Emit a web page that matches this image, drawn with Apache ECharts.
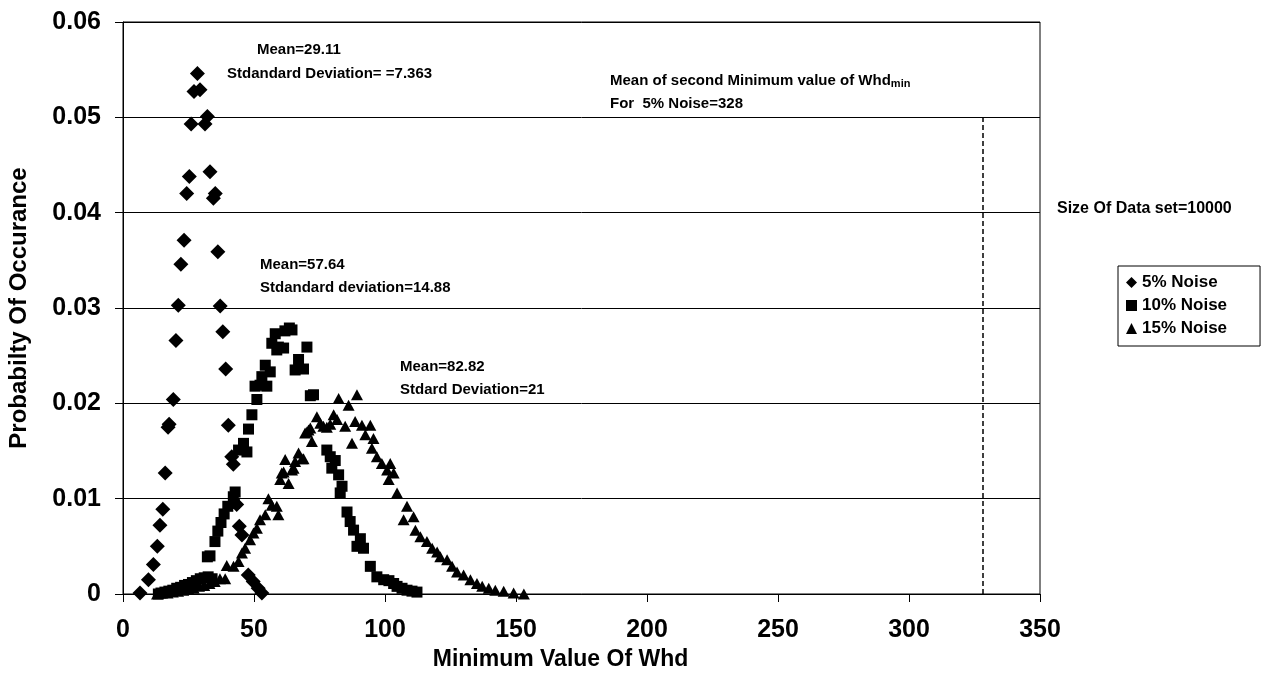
<!DOCTYPE html>
<html>
<head>
<meta charset="utf-8">
<script src="https://cdn.jsdelivr.net/npm/echarts@6/dist/echarts.min.js"></script>
<style>
    html, body {margin: 0; padding: 0; background: #fff;}
    #chart {width: 1265px; height: 681px;}
</style>
</head>
<body>
<div id="chart"></div>
<script>
// ---
// values: [minimum value of Whd, probability]
// ---
var noise5 = [
    [6.5, 0.0001], [9.7, 0.0015], [11.6, 0.0031], [13.1, 0.0050], [14.1, 0.0072],
    [15.2, 0.0089], [16.1, 0.0127], [17.2, 0.0175], [17.6, 0.0178], [19.2, 0.0204],
    [20.2, 0.0266], [21.1, 0.0303], [22.1, 0.0346], [23.3, 0.0371], [24.3, 0.0420],
    [25.3, 0.0438], [26.0, 0.0493], [27.1, 0.0527], [28.4, 0.0546], [29.4, 0.0529],
    [31.3, 0.0493], [32.2, 0.0501], [33.2, 0.0443], [34.5, 0.0415], [35.2, 0.0420],
    [36.2, 0.0359], [37.1, 0.0302], [38.1, 0.0275], [39.2, 0.0236], [40.2, 0.0177],
    [41.5, 0.0144], [42.1, 0.0136], [43.4, 0.0094], [44.4, 0.0071], [45.4, 0.0062],
    [47.8, 0.0020], [49.7, 0.0013], [51.6, 0.0006], [53.0, 0.0001]
];
var noise10 = [
    [13.5, 0.0000], [14.5, 0.0001], [16.0, 0.0002], [17.5, 0.0003], [19.0, 0.0004],
    [20.5, 0.0006], [22.0, 0.0007], [23.5, 0.0009], [25.0, 0.0010], [26.5, 0.0012],
    [28.0, 0.0014], [29.5, 0.0016], [31.0, 0.0017], [32.5, 0.0018], [34.0, 0.0016],
    [32.2, 0.0039], [33.2, 0.0040], [35.1, 0.0055], [36.2, 0.0066], [37.4, 0.0075],
    [38.6, 0.0084], [40.0, 0.0092], [42.5, 0.0095], [42.1, 0.0102], [42.8, 0.0107],
    [44.1, 0.0151], [46.0, 0.0158], [47.3, 0.0149], [47.9, 0.0173], [49.2, 0.0188],
    [51.1, 0.0204], [50.4, 0.0218], [52.3, 0.0219], [54.9, 0.0218], [53.0, 0.0228],
    [56.2, 0.0233], [54.3, 0.0240], [56.8, 0.0263], [58.1, 0.0273], [58.7, 0.0256],
    [59.3, 0.0259], [61.3, 0.0258], [61.8, 0.0276], [63.5, 0.0279], [64.5, 0.0277],
    [65.7, 0.0235], [67.0, 0.0246], [68.9, 0.0236], [70.2, 0.0259], [71.5, 0.0208],
    [72.7, 0.0209], [77.8, 0.0151], [79.1, 0.0144], [81.0, 0.0140], [79.7, 0.0132],
    [82.3, 0.0125], [83.6, 0.0113], [82.9, 0.0106], [85.5, 0.0086], [86.7, 0.0076],
    [88.0, 0.0067], [89.3, 0.0050], [90.6, 0.0058], [91.8, 0.0048], [94.4, 0.0029],
    [96.9, 0.0018], [99.5, 0.0015], [101.5, 0.0014], [103.3, 0.0011], [104.6, 0.0008],
    [106.5, 0.0006], [108.4, 0.0004], [110.3, 0.0003], [112.2, 0.0002]
];
var noise15 = [
    [13.0, 0.0000], [15.0, 0.0001], [17.0, 0.0001], [19.0, 0.0002], [21.0, 0.0003],
    [23.0, 0.0004], [25.0, 0.0005], [27.0, 0.0006], [29.0, 0.0008], [31.0, 0.0009],
    [33.0, 0.0011], [35.0, 0.0013], [37.0, 0.0016], [39.0, 0.0016], [39.6, 0.0030],
    [42.2, 0.0029], [44.1, 0.0034], [45.4, 0.0043], [46.6, 0.0048], [48.5, 0.0057],
    [49.8, 0.0064], [51.1, 0.0069], [52.3, 0.0078], [54.3, 0.0083], [55.5, 0.0100],
    [56.8, 0.0093], [58.7, 0.0092], [59.3, 0.0083], [60.0, 0.0120], [60.6, 0.0127],
    [61.3, 0.0128], [61.9, 0.0141], [63.2, 0.0116], [64.5, 0.0130], [65.1, 0.0132],
    [65.7, 0.0139], [67.0, 0.0148], [68.3, 0.0142], [68.9, 0.0142], [69.5, 0.0169],
    [70.2, 0.0170], [70.8, 0.0172], [71.5, 0.0174], [72.1, 0.0160], [74.0, 0.0186],
    [75.3, 0.0179], [76.5, 0.0176], [77.8, 0.0175], [79.1, 0.0178], [80.4, 0.0188],
    [81.7, 0.0183], [82.3, 0.0205], [84.8, 0.0176], [86.1, 0.0198], [87.4, 0.0158],
    [88.6, 0.0181], [89.3, 0.0209], [91.2, 0.0177], [92.5, 0.0167], [94.4, 0.0177],
    [95.0, 0.0153], [95.6, 0.0163], [96.9, 0.0144], [98.8, 0.0137], [100.8, 0.0130],
    [101.4, 0.0120], [102.0, 0.0137], [103.3, 0.0127], [104.6, 0.0106], [107.1, 0.0078],
    [108.4, 0.0092], [110.9, 0.0081], [111.6, 0.0067], [113.5, 0.0060], [116.0, 0.0055],
    [118.0, 0.0048], [119.9, 0.0044], [121.1, 0.0039], [123.7, 0.0036], [125.6, 0.0029],
    [127.5, 0.0023], [130.0, 0.0020], [132.6, 0.0015], [135.1, 0.0011], [137.1, 0.0008],
    [139.6, 0.0006], [142.1, 0.0004], [145.3, 0.0003], [149.1, 0.0001], [153.0, 0.0000]
];
var seriesNames = ['5% Noise', '10% Noise', '15% Noise'];
var secondMinMean = 328;
var secondMinTop = 0.05;

var chart = echarts.init(document.getElementById('chart'));
var font = 'Liberation Sans, Arial, sans-serif';
var boldText = function (txt, x, y, size) {
    return {
        type: 'text', left: x, top: y,
        style: {text: txt, font: 'bold ' + (size || 15) + 'px ' + font, fill: '#000'}
    };
};

chart.setOption({
    animation: false,
    grid: {
        left: 123, right: 225, top: 22, bottom: 87,
        outerBoundsMode: 'none',
        show: true, borderColor: '#000', borderWidth: 1
    },
    xAxis: {
        type: 'value', min: 0, max: 350, interval: 50,
        name: 'Minimum Value Of Whd', nameLocation: 'middle', nameGap: 52,
        nameTextStyle: {fontFamily: font, fontWeight: 'bold', fontSize: 23, color: '#000', padding: [0, 42, 0, 0]},
        axisLine: {lineStyle: {color: '#000', width: 1}},
        axisTick: {length: 8, lineStyle: {color: '#000'}},
        axisLabel: {fontFamily: font, fontWeight: 'bold', fontSize: 25, color: '#000', margin: 24},
        splitLine: {show: false}
    },
    yAxis: {
        type: 'value', min: 0, max: 0.06, interval: 0.01,
        name: 'Probabilty Of Occurance', nameLocation: 'middle', nameGap: 92,
        nameTextStyle: {fontFamily: font, fontWeight: 'bold', fontSize: 24, color: '#000'},
        axisLine: {show: true, lineStyle: {color: '#000', width: 1}},
        axisTick: {show: true, length: 8, lineStyle: {color: '#000'}},
        axisLabel: {fontFamily: font, fontWeight: 'bold', fontSize: 25, color: '#000', margin: 22},
        splitLine: {show: true, lineStyle: {color: '#000', width: 1}}
    },
    legend: {
        orient: 'vertical', left: 1118, top: 266,
        padding: [8, 33, 9, 8], itemGap: 6,
        borderColor: '#000', borderWidth: 1,
        itemWidth: 11, itemHeight: 11,
        textStyle: {fontFamily: font, fontWeight: 'bold', fontSize: 17, color: '#000'},
        data: [
            {name: seriesNames[0], icon: 'diamond'},
            {name: seriesNames[1], icon: 'rect'},
            {name: seriesNames[2], icon: 'triangle'}
        ]
    },
    series: [
        {
            name: seriesNames[0], type: 'scatter', symbol: 'diamond', symbolSize: 15,
            itemStyle: {color: '#000', opacity: 1}, data: noise5,
            markLine: {
                silent: true, symbol: 'none',
                label: {show: false},
                lineStyle: {color: '#000', type: [5, 3], width: 1.5},
                data: [[{coord: [secondMinMean, 0]}, {coord: [secondMinMean, secondMinTop]}]]
            }
        },
        {
            name: seriesNames[1], type: 'scatter', symbol: 'rect', symbolSize: 11,
            itemStyle: {color: '#000', opacity: 1}, data: noise10
        },
        {
            name: seriesNames[2], type: 'scatter', symbol: 'triangle', symbolSize: [12, 11],
            itemStyle: {color: '#000', opacity: 1}, data: noise15
        }
    ],
    graphic: [
        boldText('Mean=29.11', 257, 42),
        boldText('Stdandard Deviation= =7.363', 227, 66),
        {
            type: 'text', left: 610, top: 73,
            style: {
                text: 'Mean of second Minimum value of Whd{sub|min}',
                font: 'bold 15px ' + font, fill: '#000',
                rich: {sub: {font: 'bold 11px ' + font, fill: '#000', verticalAlign: 'bottom', padding: [7, 0, 0, 0]}}
            }
        },
        boldText('For  5% Noise=328', 610, 96),
        boldText('Mean=57.64', 260, 257),
        boldText('Stdandard deviation=14.88', 260, 280),
        boldText('Mean=82.82', 400, 359),
        boldText('Stdard Deviation=21', 400, 382),
        boldText('Size Of Data set=10000', 1057, 201, 16)
    ]
});
</script>
</body>
</html>
